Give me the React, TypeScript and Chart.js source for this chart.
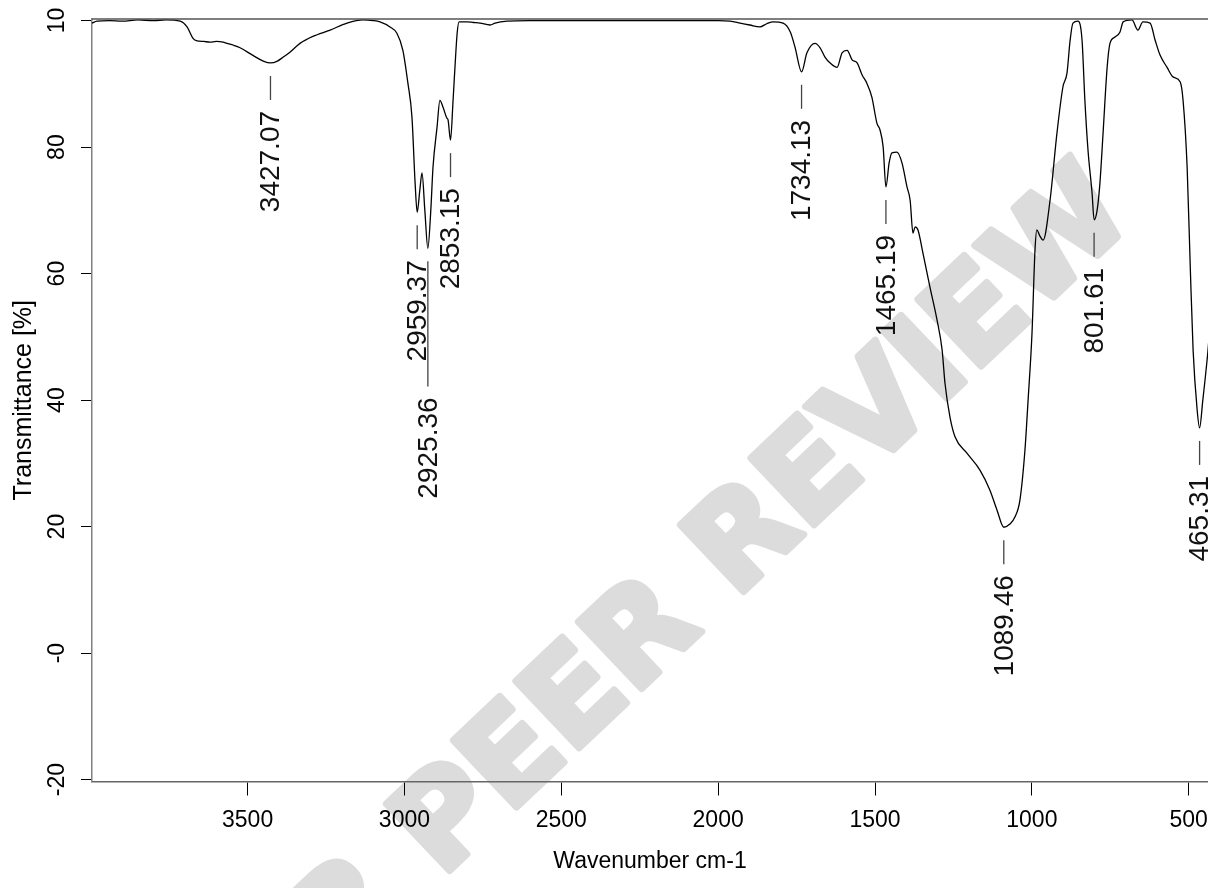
import React, { useEffect, useRef } from "react";
import { Chart, registerables } from "chart.js";

Chart.register(...registerables);

// ---- data ----
const wavenumbers = [
  3996, 3980, 3940, 3900, 3850, 3800, 3760, 3715, 3693, 3674, 3661, 3640, 3620, 3600, 3578, 3566, 3545, 3524,
  3483, 3450, 3427.07, 3405, 3390, 3365, 3333, 3292, 3237, 3183, 3132, 3100, 3078, 3046, 3024, 3005, 2989, 2976,
  2966, 2959.37, 2951, 2944, 2935, 2925.36, 2916, 2909, 2896, 2887, 2877, 2865, 2861, 2853.15, 2845, 2839, 2832,
  2826, 2801, 2780, 2759, 2727, 2711, 2673, 2600, 2500, 2400, 2300, 2200, 2100, 2000, 1962, 1930, 1899, 1867,
  1845, 1825, 1793, 1770, 1755, 1734.13, 1717, 1691, 1675, 1659, 1643, 1621, 1605, 1589, 1573, 1557, 1541, 1526,
  1510, 1494, 1484, 1474, 1465.19, 1455, 1446, 1430, 1414, 1398, 1388, 1379, 1372, 1363, 1347, 1325, 1302, 1286,
  1277, 1261, 1245, 1207, 1165, 1134, 1111, 1089.46, 1070, 1054, 1038, 1022, 1012, 999.5, 990, 984, 975, 964,
  942, 920, 901, 888, 878, 869, 853, 840, 831, 821, 808, 801.61, 792, 783, 773, 760, 751, 735, 719, 709, 681,
  662, 646, 623, 607, 591, 569, 550, 527, 518, 505, 495, 486, 473, 465.31, 455, 439, 425,
];
const transmittance = [
  99.6, 99.9, 100.0, 99.9, 100.1, 100.0, 100.1, 99.9, 99.0, 97.2, 96.8, 96.7, 96.6, 96.7, 96.6, 96.4, 96.1, 95.7,
  94.5, 93.6, 93.3, 93.6, 94.1, 95.0, 96.4, 97.5, 98.5, 99.6, 100.1, 100.0, 99.8, 99.0, 98.0, 95.3, 90.1, 84.7,
  74.3, 69.7, 73.2, 75.9, 70.0, 64.0, 70.0, 76.8, 83.2, 87.4, 86.3, 84.6, 84.3, 81.1, 87.4, 92.6, 98.0,
  99.8, 99.8, 99.7, 99.6, 99.3, 99.6, 99.9, 100.0, 100.0, 100.0, 100.0, 100.0, 100.0, 100.0, 99.9, 99.6, 99.3, 99.0,
  99.5, 99.8, 99.6, 98.2, 95.8, 91.9, 94.9, 96.4, 95.7, 94.2, 93.3, 92.6, 94.9, 95.3, 93.8, 93.3, 91.4, 90.1,
  87.9, 83.8, 82.7, 80.0, 73.7, 77.5, 79.1, 79.2, 77.5, 73.7, 71.6, 66.4, 67.4, 66.9, 63.2, 57.9, 52.6, 47.9,
  42.7, 37.3, 34.2, 31.6, 28.9, 25.8, 22.6, 19.9, 20.4, 21.5, 24.2, 32.1, 40.0, 50.6, 63.7, 66.9, 66.0, 65.3,
  71.6, 82.2, 89.5, 91.7, 96.9, 99.6, 99.9, 96.9, 87.4, 79.5, 72.7, 68.5, 70.0, 74.3, 82.2, 92.6, 96.4, 97.4, 98.2, 99.8, 100.1,
  98.5, 99.8, 99.6, 96.9, 94.5, 92.6, 91.1, 90.3, 87.4, 76.8, 61.0, 47.9, 38.4, 35.6, 40.0, 47.6, 56.0,
];
const peakWavenumbers = [3427.07, 2959.37, 2925.36, 2853.15, 1734.13, 1465.19, 1089.46, 801.61, 465.31];
const peakLabels = ["3427.07", "2959.37", "2925.36", "2853.15", "1734.13", "1465.19", "1089.46", "801.61", "465.31"];
const xTickValues = [3500, 3000, 2500, 2000, 1500, 1000, 500];
const yTickValues = [-20, 0, 20, 40, 60, 80, 100];
const yTickLabels = ["-20", "-0", "20", "40", "60", "80", "10"];
const xTitle = "Wavenumber cm-1";
const yTitle = "Transmittance [%]";
const watermarkText = "FOR PEER REVIEW";

const FONT = '"Liberation Sans", Arial, sans-serif';

const framePlugin = {
  id: "frameTop",
  afterDraw(chart: any) {
    const { ctx, chartArea } = chart;
    ctx.save();
    ctx.strokeStyle = "#555555";
    ctx.lineWidth = 1.5;
    ctx.beginPath();
    ctx.moveTo(chartArea.left, chartArea.top);
    ctx.lineTo(chartArea.right, chartArea.top);
    ctx.stroke();
    ctx.restore();
  },
};

const watermarkPlugin = {
  id: "watermark",
  beforeDraw(chart: any) {
    const { ctx } = chart;
    ctx.save();
    ctx.translate(645, 640);
    ctx.rotate((-43.5 * Math.PI) / 180);
    ctx.font = `bold 126px "DejaVu Sans", ${FONT}`;
    ctx.textAlign = "center";
    ctx.textBaseline = "middle";
    ctx.fillStyle = "#dcdcdc";
    ctx.strokeStyle = "#dcdcdc";
    ctx.lineWidth = 7;
    ctx.lineJoin = "round";
    ctx.fillText(watermarkText, 0, 0);
    ctx.strokeText(watermarkText, 0, 0);
    ctx.restore();
  },
};

const peakLabelPlugin = {
  id: "peakLabels",
  afterDatasetsDraw(chart: any) {
    const { ctx } = chart;
    const x = chart.scales.x;
    const y = chart.scales.y;
    ctx.save();
    ctx.font = `28px ${FONT}`;
    let prev: { px: number; textEnd: number } | null = null;
    peakWavenumbers.forEach((w, i) => {
      const idx = wavenumbers.indexOf(w);
      const px = x.getPixelForValue(w);
      const py = y.getPixelForValue(transmittance[idx]);
      const text = peakLabels[i];
      const tw = ctx.measureText(text).width;
      const lineStart = py + 13;
      let lineEnd = lineStart + 24;
      if (prev && Math.abs(px - prev.px) < 21) lineEnd = Math.max(lineEnd, prev.textEnd + 25);
      const textStart = lineEnd + 11;
      const textEnd = textStart + tw;
      ctx.strokeStyle = "#444444";
      ctx.lineWidth = 1.3;
      ctx.beginPath();
      ctx.moveTo(px, lineStart);
      ctx.lineTo(px, lineEnd);
      ctx.stroke();
      ctx.save();
      ctx.translate(px + 1, textEnd);
      ctx.rotate(-Math.PI / 2);
      ctx.textAlign = "left";
      ctx.textBaseline = "middle";
      ctx.fillStyle = "#111111";
      ctx.fillText(text, 0, 0);
      ctx.restore();
      prev = { px, textEnd };
    });
    ctx.restore();
  },
};

export default function App() {
  const canvasRef = useRef<HTMLCanvasElement | null>(null);

  useEffect(() => {
    if (!canvasRef.current) return;
    const points = wavenumbers.map((w, i) => ({ x: w, y: transmittance[i] }));
    const chart = new Chart(canvasRef.current, {
      type: "line",
      data: {
        datasets: [
          {
            data: points,
            borderColor: "#000000",
            borderWidth: 1.3,
            pointRadius: 0,
            cubicInterpolationMode: "monotone",
            fill: false,
          },
        ],
      },
      options: {
        responsive: false,
        animation: false,
        devicePixelRatio: 1,
        layout: { padding: { top: 19, left: 0, right: 0, bottom: 0 } },
        plugins: { legend: { display: false }, tooltip: { enabled: false } },
        scales: {
          x: {
            type: "linear",
            reverse: true,
            min: 438.5,
            max: 3996,
            afterBuildTicks: (scale: any) => {
              scale.ticks = xTickValues.map((v) => ({ value: v }));
            },
            afterFit: (scale: any) => {
              scale.height = 106.5;
              scale.paddingLeft = 0;
              scale.paddingRight = 0;
            },
            ticks: {
              autoSkip: false,
              maxRotation: 0,
              minRotation: 0,
              padding: 11,
              color: "#000000",
              font: { family: FONT, size: 23 },
              callback: (v: any) => String(v),
            },
            grid: {
              display: true,
              drawOnChartArea: false,
              drawTicks: true,
              tickLength: 14,
              tickColor: "#000000",
              tickWidth: 1,
            },
            border: { display: true, color: "#666666", width: 1.5 },
            title: {
              display: true,
              text: xTitle,
              color: "#000000",
              font: { family: FONT, size: 23 },
              padding: { top: 0, bottom: 13 },
            },
          },
          y: {
            type: "linear",
            min: -20.3,
            max: 100.25,
            afterBuildTicks: (scale: any) => {
              scale.ticks = yTickValues.map((v) => ({ value: v }));
            },
            afterFit: (scale: any) => {
              scale.width = 92;
              scale.paddingTop = 0;
              scale.paddingBottom = 0;
            },
            ticks: {
              autoSkip: false,
              minRotation: 90,
              maxRotation: 90,
              crossAlign: "center",
              padding: 7,
              color: "#000000",
              font: { family: FONT, size: 23 },
              callback: (v: any) => {
                const i = yTickValues.indexOf(Number(v));
                return i >= 0 ? yTickLabels[i] : "";
              },
            },
            grid: {
              display: true,
              drawOnChartArea: false,
              drawTicks: true,
              tickLength: 11,
              tickColor: "#000000",
              tickWidth: 1,
            },
            border: { display: true, color: "#808080", width: 1.5 },
            title: {
              display: true,
              text: yTitle,
              color: "#000000",
              font: { family: FONT, size: 25 },
              padding: { top: 9, bottom: 0 },
            },
          },
        },
      } as any,
      plugins: [watermarkPlugin, peakLabelPlugin, framePlugin],
    });
    return () => chart.destroy();
  }, []);

  return (
    <div style={{ position: "absolute", left: 0, top: 0, width: 1208, height: 888, background: "#ffffff" }}>
      <canvas ref={canvasRef} width={1208} height={888} />
    </div>
  );
}
